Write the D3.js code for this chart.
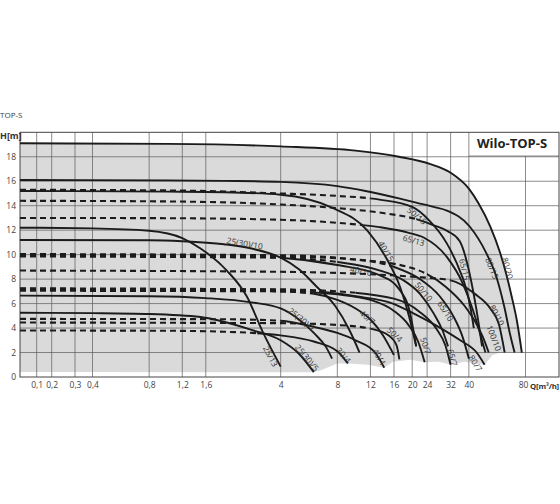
<!DOCTYPE html>
<html lang="en">
<head>
  <meta charset="UTF-8">
  <title>Wilo-TOP-S pump curves</title>
  <script src="https://d3js.org/d3.v7.min.js"></script>
  <style>
    body { margin: 0; background: #fff; }
    svg text { font-family: "Open Sans", sans-serif; fill: #3a3a3a; }
    .grid line { stroke: #5a5a5a; stroke-width: 0.7; }
    .frame { fill: none; stroke: #444; stroke-width: 1; }
    .curve { fill: none; stroke: #1b1b1b; stroke-width: 1.9; }
    .curve.dashed { stroke-width: 2.1; stroke-dasharray: 6,4; }
    .axis text { font-size: 8.5px; fill: #444; }
    .axis path, .axis line { display: none; }
    .lbl { font-size: 8.3px; fill: #333; }
    .unit { font-size: 9px; font-weight: bold; fill: #333; }
    .brand { font-size: 13px; font-weight: bold; fill: #222; }
  </style>
</head>
<body>
  <div id="chart"></div>
  <script>
    // ---- data ----
    const xTicksLow = [0.1, 0.2, 0.3];
    const xTicksHigh = [0.4, 0.8, 1.2, 1.6, 4, 8, 12, 16, 20, 24, 32, 40, 80];
    const yTicks = [0, 2, 4, 6, 8, 10, 12, 14, 16, 18];

    const pumpNames = ["80/20", "80/15", "50/15", "65/15", "40/15", "65/13", "25/13",
      "25(30)/10", "40/10", "50/10", "65/10", "100/10", "80/10",
      "25(30)/7", "40/7", "50/7", "65/7", "80/7",
      "25(30)/5", "40/4", "50/4", "30/4"];

    // [Q m3/h, H m]
    const pumpPoints = [
      [[0,19.1],[1,19.05],[4,18.85],[10,18.5],[17,18.0],[25,17.4],[32,16.7],[40,15.4],[45,14.2],[52,12.3],[58.5,10.2],[63.5,8.3],[67.5,6.6],[72,4.6],[76.5,2]],
      [[0,16.1],[1,16.07],[2,16.03],[4,15.95],[8,15.6],[11.3,15.2],[17,14.6],[21,14.25],[26,13.9],[30.6,13.6],[40.4,12.3],[49.6,10.1],[56,8.2],[61.8,5.7],[66,3.6],[70,2]],
      [[0,15.3],[1,15.25],[4,15.0],[8,14.8],[13.4,14.5],[20,13.9],[24.6,12.8],[30.6,10.9],[35.8,8.7],[38.9,7.1],[41,5.5],[42.5,4]],
      [[0,14.4],[1,14.35],[4,14.1],[8,13.8],[14,13.4],[21,12.9],[26,12.4],[31,11.9],[35.8,11.1],[39.2,9.3],[41.7,7.4],[43.9,5.5],[45.5,4],[47,2.5]],
      [[0,15.2],[1,15.15],[2,15.1],[4,14.9],[7.6,13.8],[11.5,12.0],[14.7,9.6],[17.2,7.4],[19.2,5],[21,2.5]],
      [[0,13.0],[1,12.98],[4,12.85],[8,12.6],[13.4,12.25],[19,11.8],[23,11.4],[30.6,9.8],[37,7.7],[42,5.5],[46,3.5],[49,2]],
      [[0,12.2],[0.4,12.15],[0.8,11.95],[1.2,11.35],[1.5,10.5],[2.07,8.7],[2.64,6.6],[3.23,3.6],[4.0,0.85]],
      [[0,11.2],[0.8,11.18],[1.2,11.1],[2,10.85],[2.8,10.5],[4,9.75],[5,8.8],[6.2,7.4],[7.8,5.8],[9.3,3.8],[10.5,2.0]],
      [[0,9.95],[2,9.9],[4,9.75],[8,9.15],[13.5,8.3],[17,7.2],[19.5,5.2],[21,2.5]],
      [[0,9.85],[4,9.75],[8,9.4],[13.5,8.7],[18,7.9],[22,6.8],[26,5.2],[29,3.8],[31,2.5]],
      [[0,10.05],[4,9.95],[10,9.6],[16,9.0],[22,8.0],[28,6.6],[33,5.0],[37,3.3],[40,1.5]],
      [[0,9.9],[4,9.85],[10,9.6],[20,8.9],[30,7.4],[38,5.8],[44,4.3],[48,3.1],[51,2]],
      [[0,8.7],[4,8.6],[10,8.45],[20,8.2],[32,7.9],[43,6.8],[52,5.6],[58,4.2],[62,2]],
      [[0,6.65],[0.8,6.6],[1.6,6.45],[2.8,6.1],[4,5.6],[5,4.7],[6,3.6],[7,2.4],[7.5,1.5]],
      [[0,7.15],[2,7.1],[4,7.0],[6,6.8],[8,6.3],[10,5.6],[12,4.7],[14,3.4],[16,1.8]],
      [[0,7.05],[4,7.0],[8,6.75],[12,6.3],[16,5.4],[19,4.3],[21.5,2.9],[23.3,1.2]],
      [[0,7.2],[4,7.15],[8,7.0],[16,6.4],[22,5.3],[27,3.9],[30,2.6],[32,1.0]],
      [[0,7.25],[4,7.15],[10,6.6],[15.8,6.0],[20.3,5.2],[28.3,4.0],[36,3.0],[44,2.0],[48.5,1.0]],
      [[0,5.25],[0.4,5.22],[0.8,5.15],[1.5,4.9],[2.8,3.85],[4,3.0],[5,1.9],[6,0.4]],
      [[0,4.75],[2,4.72],[4,4.6],[6,4.1],[8,3.6],[10,3.0],[12.7,2.0],[14.2,0.76]],
      [[0,4.45],[4,4.4],[8,4.25],[12,3.95],[15,3.4],[16.5,2.6],[17.1,1.44]],
      [[0,3.8],[1,3.78],[2,3.7],[4,3.4],[6,2.9],[8,2.1],[9.1,1.1]]
    ];

    // curve is dashed from Q=0 up to this Q, solid afterwards (0 = solid)
    const pumpDashTo = [0, 0, 12, 21, 0, 11, 0, 0, 4, 8, 16, 24, 32, 0, 6, 6, 10, 6.4, 0, 4, 12, 3];

    // label centres
    const labelQ = [64.6, 53.4, 21.2, 38.1, 14.6, 20.4, 3.55, 2.58, 10.7, 23.1, 30.2, 54.7, 56.7,
      5.19, 11.6, 23.7, 32.9, 43.6, 5.55, 13.4, 16.2, 8.67];
    const labelH = [8.9, 8.9, 13.2, 8.8, 10.3, 11.2, 1.7, 10.95, 8.7, 7.0, 5.4, 3.2, 5.07,
      4.74, 4.9, 2.57, 1.6, 1.14, 1.6, 1.67, 3.5, 1.8];

    // lower edge of the grey operating field
    const fieldLower = [[0,0.4],[6,0.38],[6.55,0.55],[8,1.1],[9.1,1.1],[11.6,1.0],[14.2,0.76],[15.8,1.25],
      [19.6,1.4],[23.3,1.2],[27.7,1.25],[32.2,1.0],[37.7,1.25],[48.5,1.0],[53.4,1.8],[58.5,2.0],[76.6,2.0]];

    // ---- layout ----
    const W = 560, H = 504;
    const plotL = 20, plotR = 559, plotT = 132.3, plotB = 377;

    const svg = d3.select("#chart").append("svg")
      .attr("width", W).attr("height", H);

    const xLow = d3.scaleLinear().domain([0, 0.1, 0.2, 0.3, 0.4]).range([plotL, 36.7, 51.7, 75, 92.5]);
    const xLog = d3.scaleLog().domain([0.4, 80]).range([92.5, 525.5]);
    const x = q => q < 0.4 ? xLow(q) : xLog(q);
    const y = d3.scaleLinear().domain([0, 20]).range([plotB, plotT]);

    const defs = svg.append("defs");

    // grey field: under the 80/20 curve, then white below the lower edge
    svg.append("path")
      .attr("d", d3.area().x(d => x(d[0])).y0(plotB).y1(d => y(d[1])).curve(d3.curveMonotoneX)(pumpPoints[0]))
      .attr("fill", "#dadada");
    svg.append("path")
      .attr("d", d3.area().x(d => x(d[0])).y0(plotB + 1).y1(d => y(d[1]))(fieldLower))
      .attr("fill", "#fff");

    // grid
    const grid = svg.append("g").attr("class", "grid");
    const boxLeft = xLog(40), boxBottom = 156;
    grid.selectAll(".v").data(xTicksLow.concat(xTicksHigh)).enter().append("line")
      .attr("x1", d => x(d)).attr("x2", d => x(d))
      .attr("y1", d => d === 80 ? boxBottom : plotT).attr("y2", plotB);
    grid.selectAll(".h").data(yTicks.filter(d => d > 0)).enter().append("line")
      .attr("x1", plotL).attr("x2", plotR)
      .attr("y1", d => y(d)).attr("y2", d => y(d));
    grid.append("line").attr("x1", boxLeft).attr("x2", plotR).attr("y1", boxBottom).attr("y2", boxBottom);

    svg.append("rect").attr("class", "frame")
      .attr("x", plotL).attr("y", plotT).attr("width", plotR - plotL).attr("height", plotB - plotT);

    // curves
    const line = d3.line().x(d => x(d[0])).y(d => y(d[1])).curve(d3.curveMonotoneX);
    const paths = [];
    pumpPoints.forEach((pts, i) => {
      const cut = pumpDashTo[i] ? x(pumpDashTo[i]) : plotL;
      defs.append("clipPath").attr("id", "cd" + i).append("rect")
        .attr("x", 0).attr("y", 0).attr("width", cut).attr("height", H);
      defs.append("clipPath").attr("id", "cs" + i).append("rect")
        .attr("x", cut).attr("y", 0).attr("width", W - cut).attr("height", H);
      if (pumpDashTo[i]) {
        svg.append("path").attr("class", "curve dashed")
          .attr("clip-path", `url(#cd${i})`).attr("d", line(pts));
      }
      const p = svg.append("path").attr("class", "curve")
        .attr("clip-path", `url(#cs${i})`).attr("d", line(pts));
      paths.push(p.node());
    });

    // curve labels, turned to the local slope of their curve
    pumpNames.forEach((name, i) => {
      const node = paths[i];
      const len = node.getTotalLength();
      const cx = x(labelQ[i]), cy = y(labelH[i]);
      let best = 0, bestD = Infinity;
      for (let s = 0; s <= len; s += 1) {
        const pt = node.getPointAtLength(s);
        const dd = (pt.x - cx) ** 2 + (pt.y - cy) ** 2;
        if (dd < bestD) { bestD = dd; best = s; }
      }
      const a = node.getPointAtLength(Math.max(0, best - 4));
      const b = node.getPointAtLength(Math.min(len, best + 4));
      const ang = Math.atan2(b.y - a.y, b.x - a.x) * 180 / Math.PI;
      svg.append("text").attr("class", "lbl")
        .attr("transform", `translate(${cx},${cy}) rotate(${ang})`)
        .attr("text-anchor", "middle")
        .attr("dominant-baseline", "central")
        .text(name);
    });

    // axes
    const fmt = d => String(d).replace(".", ",");
    svg.append("g").attr("class", "axis")
      .attr("transform", `translate(0,${plotB})`)
      .call(d3.axisBottom(xLow).tickValues(xTicksLow).tickSize(0).tickPadding(5).tickFormat(fmt));
    svg.append("g").attr("class", "axis")
      .attr("transform", `translate(0,${plotB})`)
      .call(d3.axisBottom(xLog).tickValues(xTicksHigh).tickSize(0).tickPadding(5).tickFormat(fmt))
      .selectAll(".tick text").filter(d => d === 80).attr("dx", -2.5);
    svg.append("g").attr("class", "axis")
      .attr("transform", `translate(${plotL},0)`)
      .call(d3.axisLeft(y).tickValues(yTicks).tickSize(0).tickPadding(4));

    svg.append("text").attr("class", "unit").attr("x", 0).attr("y", plotT + 7).text("H[m]");
    svg.append("text").attr("class", "unit").attr("x", 559).attr("y", 389)
      .attr("text-anchor", "end").attr("font-size", 7.8).attr("letter-spacing", -0.2)
      .style("font-size", "7.8px").text("Q[m³/h]");
    svg.append("text").attr("x", 0).attr("y", 118).attr("font-size", 8).text("TOP-S");
    svg.append("text").attr("class", "brand").attr("x", 477).attr("y", 148).text("Wilo-TOP-S");
  </script>
</body>
</html>
